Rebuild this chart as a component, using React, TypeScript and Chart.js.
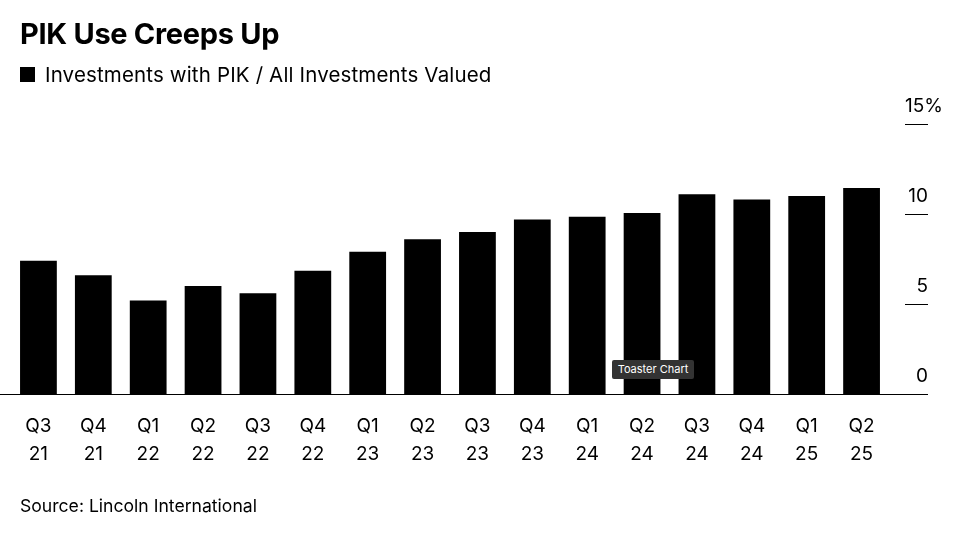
import React, { useEffect, useRef } from "react";
import { Chart, registerables } from "chart.js";
Chart.register(...registerables);

const quarters = ["Q3","Q4","Q1","Q2","Q3","Q4","Q1","Q2","Q3","Q4","Q1","Q2","Q3","Q4","Q1","Q2"];
const years = ["21","21","22","22","22","22","23","23","23","23","24","24","24","24","25","25"];
const pikShare = [7.4,6.6,5.2,6.0,5.6,6.85,7.9,8.6,9.0,9.7,9.85,10.05,11.1,10.8,11.0,11.45];
const yTicks = [0,5,10,15];

const FONT = "Inter, 'Liberation Sans', Arial, sans-serif";

export default function App() {
  const ref = useRef<HTMLCanvasElement>(null);
  useEffect(() => {
    const axisPlugin = {
      id: "axisDraw",
      afterDraw(chart: any) {
        const ctx = chart.ctx;
        const y = chart.scales.y, x = chart.scales.x;
        ctx.save();
        ctx.fillStyle = "#000";
        ctx.strokeStyle = "#000";
        ctx.lineWidth = 1;
        ctx.font = `19px ${FONT}`;
        ctx.textAlign = "right";
        ctx.textBaseline = "alphabetic";
        yTicks.forEach((t) => {
          const py = Math.round(y.getPixelForValue(t)) + 0.5;
          ctx.beginPath();
          if (t === 0) { ctx.moveTo(0, py); ctx.lineTo(928, py); }
          else { ctx.moveTo(905, py); ctx.lineTo(928, py); }
          ctx.stroke();
          if (t === 15) {
            ctx.textAlign = "left";
            ctx.fillText("15%", 905, py - 13);
            ctx.textAlign = "right";
          } else ctx.fillText(String(t), 928, py - 13);
        });
        ctx.textAlign = "center";
        quarters.forEach((q, i) => {
          const px = x.getPixelForValue(i);
          ctx.fillText(q, px, 432);
          ctx.fillText(years[i], px, 460);
        });
        ctx.restore();
      },
    };
    const chart = new Chart(ref.current!, {
      type: "bar",
      data: {
        labels: quarters.map((q, i) => q + " " + years[i]),
        datasets: [{ data: pikShare, backgroundColor: "#000", categoryPercentage: 1, barPercentage: 0.67 }],
      },
      options: {
        animation: false,
        responsive: false,
        layout: { padding: { top: 124, bottom: 148, left: 11, right: 80 } },
        plugins: { legend: { display: false }, tooltip: { enabled: false } },
        scales: {
          x: { display: false },
          y: { display: false, min: 0, max: 15 },
        },
      },
      plugins: [axisPlugin],
    });
    return () => chart.destroy();
  }, []);
  return (
    <div style={{ position: "absolute", left: 0, top: 0, width: 969, height: 542, background: "#fff", fontFamily: FONT, overflow: "hidden" }}>
      <canvas ref={ref} width={969} height={542} style={{ position: "absolute", left: 0, top: 0 }} />
      <div style={{ position: "absolute", left: 20, top: 16, fontSize: 29, fontWeight: 700, letterSpacing: -0.3 }}>PIK Use Creeps Up</div>
      <div style={{ position: "absolute", left: 20, top: 62, fontSize: 20.5, letterSpacing: 0.15, display: "flex", alignItems: "center" }}>
        <span style={{ display: "inline-block", width: 15, height: 15, background: "#000", marginRight: 10 }} />
        Investments with PIK / All Investments Valued
      </div>
      <div style={{ position: "absolute", left: 20, top: 495, fontSize: 17.6 }}>Source: Lincoln International</div>
      <div style={{ position: "absolute", left: 612, top: 360, width: 82, height: 19, background: "#333", color: "#fff", fontSize: 11, lineHeight: "19px", textAlign: "center", borderRadius: 2 }}>Toaster Chart</div>
    </div>
  );
}
